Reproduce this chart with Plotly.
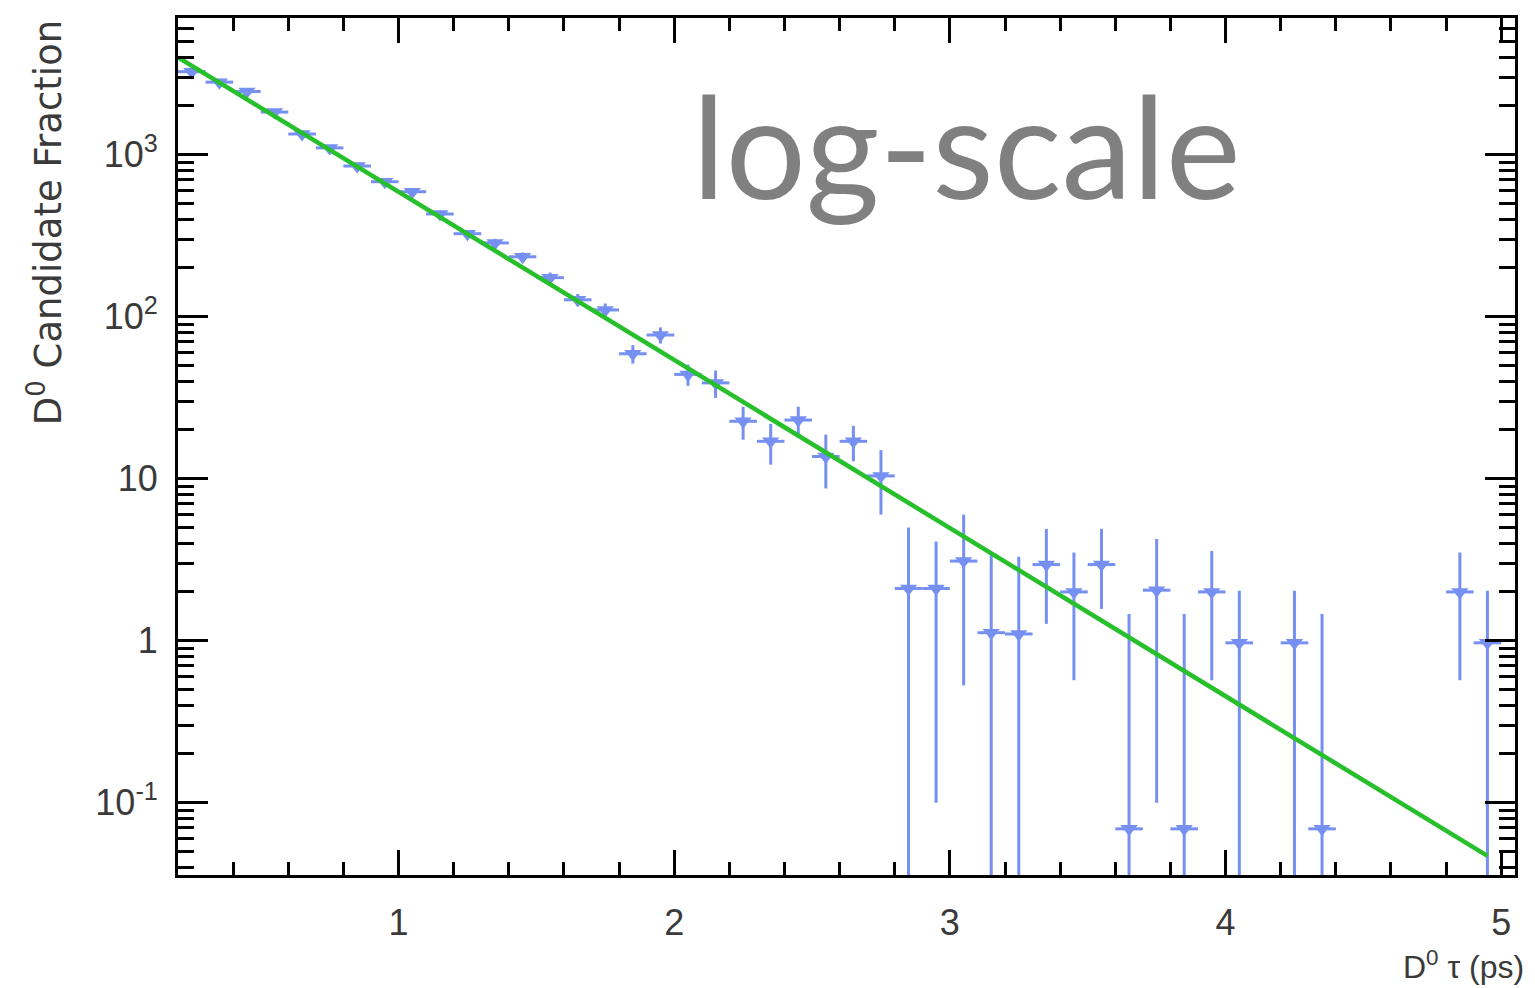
import plotly.graph_objects as go

# ---- data ----
tau = [0.25, 0.35, 0.45, 0.55, 0.65, 0.75, 0.85, 0.95, 1.05, 1.15,
       1.25, 1.35, 1.45, 1.55, 1.65, 1.75, 1.85, 1.95, 2.05, 2.15,
       2.25, 2.35, 2.45, 2.55, 2.65, 2.75, 2.85, 2.95, 3.05, 3.15,
       3.25, 3.35, 3.45, 3.55, 3.65, 3.75, 3.85, 3.95, 4.05, 4.25,
       4.35, 4.85, 4.95]
frac = [3250, 2800, 2450, 1830, 1340, 1100, 850, 680, 590, 430,
        325, 285, 234, 174, 127, 110, 59, 77, 44, 39,
        22.6, 17, 23, 13.7, 17, 10.4, 2.1, 2.1, 3.1, 1.12,
        1.1, 2.95, 2.0, 2.95, 0.069, 2.05, 0.069, 2.0, 0.97, 0.97,
        0.069, 2.0, 0.97]
err_hi = [57, 53, 50, 43, 37, 33, 29, 26, 24, 21,
          18, 17, 15, 13, 11, 10.5, 7.7, 8.8, 6.6, 7.5,
          5.2, 4.8, 4.8, 5.0, 4.2, 4.6, 2.9, 2.0, 2.9, 2.4,
          2.2, 1.95, 1.5, 1.95, 1.39, 2.2, 1.39, 1.58, 1.06, 1.06,
          1.39, 1.5, 1.06]
err_lo = [57, 53, 50, 43, 37, 33, 29, 26, 24, 21,
          18, 17, 15, 13, 11, 10.5, 7.7, 8.8, 6.6, 7.5,
          5.2, 4.8, 4.8, 5.0, 4.2, 4.4, 2.1, 2.0, 2.57, 1.12,
          1.1, 1.68, 1.43, 1.38, 0.069, 1.95, 0.069, 1.43, 0.97, 0.97,
          0.069, 1.43, 0.97]
bin_half = 0.05

fit_tau = [0.2, 4.95]
fit_frac = [3980, 0.047]

ytick_vals = [0.1, 1, 10, 100, 1000]
ytick_text = ["10<sup>-1</sup>", "1", "10", "10<sup>2</sup>", "10<sup>3</sup>"]
xtick_vals = [1, 2, 3, 4, 5]

blue = "#7690f2"
green = "#27bf2b"

fig = go.Figure()
fig.add_trace(go.Scatter(
    x=tau, y=frac, mode="markers",
    marker=dict(symbol="triangle-down", size=15, color=blue, line=dict(width=0)),
    error_y=dict(type="data", symmetric=False, array=err_hi, arrayminus=err_lo,
                 color=blue, thickness=3, width=0),
    error_x=dict(type="constant", value=bin_half, color=blue, thickness=3, width=0),
    showlegend=False,
))
fig.add_trace(go.Scatter(
    x=fit_tau, y=fit_frac, mode="lines",
    line=dict(color=green, width=4.5), showlegend=False,
))

minor_y = [m * 10 ** e for e in range(-2, 4) for m in range(2, 10)]

fig.update_layout(
    width=1527, height=980,
    margin=dict(l=170, r=20, t=7, b=113),
    paper_bgcolor="white", plot_bgcolor="white",
    font=dict(family="Liberation Sans, Arial, sans-serif", color="#3a3a3a"),
    xaxis=dict(
        range=[0.2, 5.05], tickvals=xtick_vals, ticks="inside", ticklen=25, tickwidth=3,
        tickcolor="black", showline=True, linewidth=3, linecolor="black", mirror="allticks",
        showgrid=False, zeroline=False, tickfont=dict(size=36, color="#3a3a3a"),
        ticklabelstandoff=14,
        minor=dict(dtick=0.2, ticks="inside", ticklen=13, tickwidth=3, tickcolor="black",
                   showgrid=False),
    ),
    yaxis=dict(
        type="log", range=[-1.446, 3.843], tickvals=ytick_vals, ticktext=ytick_text,
        ticks="inside", ticklen=30, tickwidth=3, tickcolor="black",
        showline=True, linewidth=3, linecolor="black", mirror="allticks",
        showgrid=False, zeroline=False, tickfont=dict(size=36, color="#3a3a3a"),
        ticklabelstandoff=10,
        minor=dict(tickmode="array", tickvals=minor_y, ticks="inside", ticklen=16,
                   tickwidth=2.5, tickcolor="black", showgrid=False),
    ),
    annotations=[
        dict(text="log-scale", xref="paper", yref="paper", x=0.59, y=0.853,
             xanchor="center", yanchor="middle", showarrow=False,
             font=dict(family="Lato, sans-serif", size=142, color="#808080")),
        dict(text="D<sup>0</sup> Candidate Fraction", xref="paper", yref="paper",
             x=-0.099, y=1.0, xanchor="center", yanchor="top", textangle=-90,
             showarrow=False,
             font=dict(family="DejaVu Sans, sans-serif", size=37, color="#3a3a3a")),
        dict(text="D<sup>0</sup> τ (ps)", xref="paper", yref="paper",
             x=1.008, y=-0.105, xanchor="right", yanchor="middle", showarrow=False,
             font=dict(family="Liberation Sans, Arial, sans-serif", size=32, color="#3a3a3a")),
    ],
)

fig.write_html("out.html")
